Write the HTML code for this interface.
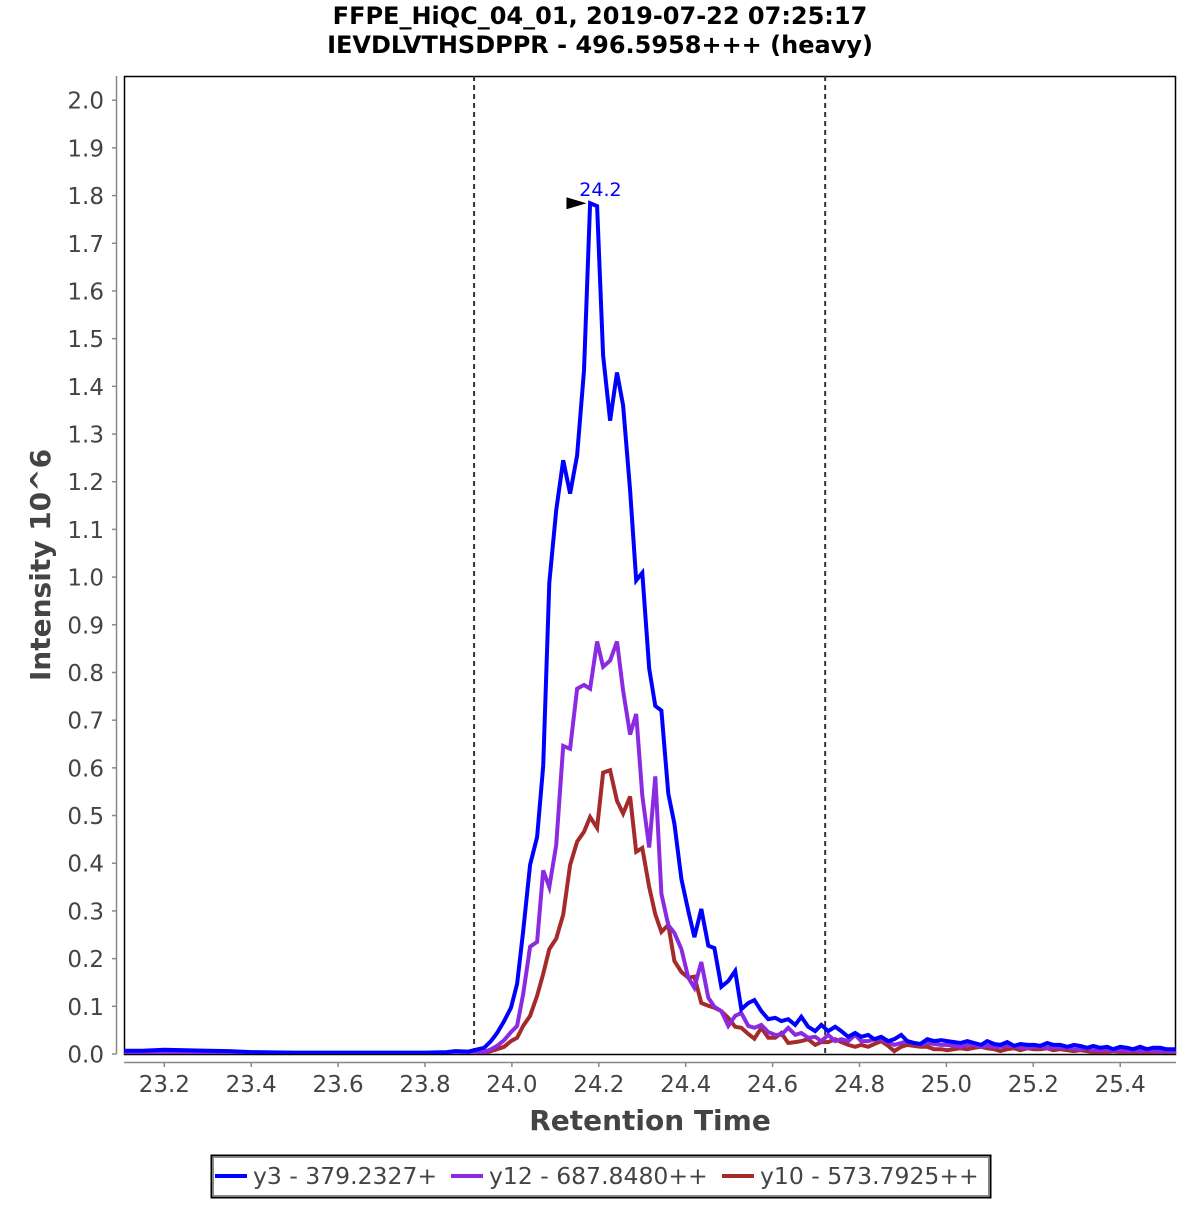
<!DOCTYPE html>
<html><head><meta charset="utf-8"><style>
html,body{margin:0;padding:0;background:#fff;}
svg text{font-family:"DejaVu Sans","Liberation Sans",sans-serif;}
</style></head><body>
<svg id="chart" width="1200" height="1200" xmlns="http://www.w3.org/2000/svg">
<text x="600" y="24" text-anchor="middle" font-size="24" font-weight="bold" fill="#000">FFPE_HiQC_04_01, 2019-07-22 07:25:17</text>
<text x="600" y="53" text-anchor="middle" font-size="24" font-weight="bold" fill="#000">IEVDLVTHSDPPR - 496.5958+++ (heavy)</text>
<g id="plot"></g>
<text x="650" y="1130" text-anchor="middle" font-size="28" font-weight="bold" fill="#444">Retention Time</text>
<text transform="translate(50,565) rotate(-90)" text-anchor="middle" font-size="28" font-weight="bold" fill="#444">Intensity 10^6</text>
<g>
<rect x="211.5" y="1155.5" width="779" height="42" fill="#fff" stroke="#000" stroke-width="2"/>
<rect x="213.5" y="1157.5" width="775" height="38" fill="none" stroke="#888" stroke-width="1"/>
<g><line x1="215" y1="1176" x2="247" y2="1176" stroke="#0000ff" stroke-width="4"/><text x="253" y="1184" font-size="23.5" fill="#444">y3 - 379.2327+</text></g>
<g><line x1="451" y1="1176" x2="483" y2="1176" stroke="#8a2be2" stroke-width="4"/><text x="489" y="1184" font-size="23.5" fill="#444">y12 - 687.8480++</text></g>
<g><line x1="722" y1="1176" x2="754" y2="1176" stroke="#a52a2a" stroke-width="4"/><text x="760" y="1184" font-size="23.5" fill="#444">y10 - 573.7925++</text></g>
</g>
</svg>
<script>
const xTicks = [23.2,23.4,23.6,23.8,24.0,24.2,24.4,24.6,24.8,25.0,25.2,25.4];
const yTicks = [0.0,0.1,0.2,0.3,0.4,0.5,0.6,0.7,0.8,0.9,1.0,1.1,1.2,1.3,1.4,1.5,1.6,1.7,1.8,1.9,2.0];
const boundaries = [23.913, 24.721];
const peakTime = 24.19;
const peakValue = 1.784;
const peakLabel = "24.2";
const times = [23.10,23.15,23.20,23.25,23.30,23.35,23.40,23.50,23.60,23.70,23.80,23.85,23.87,23.90,
23.913,23.936,23.952,23.966,23.982,23.998,24.012,24.026,24.042,24.058,
24.072,24.086,24.102,24.118,24.134,24.150,24.166,24.180,24.196,24.210,
24.226,24.242,24.256,24.272,24.286,24.300,24.316,24.330,24.344,24.360,
24.374,24.390,24.406,24.420,24.436,24.452,24.466,24.482,24.498,24.514,
24.528,24.544,24.558,24.574,24.590,24.606,24.620,24.636,24.652,24.666,
24.682,24.698,24.712,24.728,24.744,24.758,24.774,24.790,24.804,24.820,
24.834,24.850,24.866,24.880,24.896,24.910,24.926,24.940,24.956,24.972,
24.988,25.002,25.018,25.032,25.048,25.064,25.080,25.094,25.110,25.124,
25.140,25.156,25.170,25.186,25.202,25.216,25.232,25.246,25.262,25.278,
25.294,25.308,25.324,25.338,25.354,25.370,25.384,25.400,25.416,25.430,
25.446,25.462,25.476,25.492,25.506,25.529];
const y3Values = [.007,.007,.009,.008,.007,.006,.004,.003,.003,.003,.003,.004,.006,.005,
.008,.013,.027,.044,.069,.097,.147,.258,.397,.455,
.604,.988,1.14,1.245,1.175,1.255,1.433,1.784,1.778,1.465,
1.328,1.429,1.36,1.182,.993,1.009,.808,.730,.720,.546,
.483,.367,.300,.245,.304,.227,.222,.141,.153,.174,
.094,.107,.113,.090,.073,.076,.069,.073,.061,.078,
.057,.048,.061,.048,.057,.048,.036,.044,.036,.040,
.031,.036,.027,.031,.040,.027,.023,.021,.031,.027,
.029,.027,.025,.023,.027,.023,.019,.027,.021,.019,
.025,.017,.021,.019,.019,.017,.023,.019,.019,.015,
.019,.017,.013,.017,.013,.015,.010,.015,.013,.010,
.015,.010,.013,.013,.010,.010];
const y12Values = [.002,.002,.002,.002,.002,.002,.002,.002,.002,.002,.002,.002,.002,.002,
.002,.004,.010,.017,.029,.046,.059,.126,.225,.235,
.385,.350,.438,.646,.640,.766,.774,.766,.865,.812,
.825,.865,.762,.670,.713,.542,.433,.582,.336,.270,
.254,.220,.160,.139,.193,.118,.099,.090,.059,.080,
.086,.059,.055,.061,.046,.040,.040,.055,.040,.044,
.034,.036,.027,.040,.027,.031,.027,.040,.027,.027,
.031,.031,.025,.019,.023,.027,.023,.019,.023,.021,
.019,.019,.017,.015,.019,.019,.015,.017,.015,.015,
.017,.017,.013,.013,.015,.015,.013,.013,.013,.013,
.010,.010,.012,.008,.008,.008,.008,.008,.006,.008,
.006,.008,.006,.006,.006,.006];
const y10Values = [.001,.001,.001,.001,.001,.001,.001,.001,.001,.001,.001,.001,.001,.001,
.002,.002,.006,.010,.015,.027,.034,.059,.080,.122,
.168,.220,.242,.292,.396,.445,.466,.497,.474,.590,
.595,.531,.504,.540,.424,.432,.350,.293,.256,.271,
.195,.172,.160,.162,.107,.101,.097,.090,.076,.057,
.055,.042,.032,.055,.034,.034,.044,.023,.025,.027,
.031,.019,.025,.025,.031,.025,.019,.015,.019,.015,
.021,.027,.017,.006,.015,.019,.017,.015,.015,.010,
.010,.008,.010,.012,.010,.013,.015,.012,.010,.006,
.010,.012,.008,.012,.010,.010,.012,.008,.010,.008,
.006,.008,.006,.004,.004,.004,.006,.004,.004,.004,
.002,.004,.004,.002,.004,.002];

const NS = "http://www.w3.org/2000/svg";
const plot = document.getElementById('plot');
const L = 124, R = 1176, T = 76, B = 1054;
function xScale(t){ return 164.3 + (t - 23.2) * 434.5; }
function yScale(v){ return 1054 - v * 476.9; }
function mk(tag, attrs){ const e = document.createElementNS(NS, tag); for (const k in attrs) e.setAttribute(k, attrs[k]); plot.appendChild(e); return e; }

const clip = document.createElementNS(NS,'clipPath'); clip.setAttribute('id','pc');
const cr = document.createElementNS(NS,'rect'); cr.setAttribute('x',L); cr.setAttribute('y',T); cr.setAttribute('width',R-L); cr.setAttribute('height',B-T);
clip.appendChild(cr); plot.appendChild(clip);

const box = mk('rect',{x:L+0.5,y:T+0.5,width:R-L-1,height:B-T,fill:'#fff',stroke:'#000','stroke-width':1.5});



const yAxis = mk('line',{x1:116.5,y1:T,x2:116.5,y2:B,stroke:'#888','stroke-width':1.5});


yTicks.forEach(v => {
  const y = yScale(v);
  const tk = mk('line',{x1:112,y1:y,x2:116.5,y2:y,stroke:'#888','stroke-width':1.5});
  
  
  const tx = mk('text',{x:104,y:y+8.5,'text-anchor':'end','font-size':23,fill:'#444'});
  tx.textContent = v.toFixed(1);
  
  
});
const xAxis = mk('line',{x1:L,y1:1062.5,x2:R,y2:1062.5,stroke:'#888','stroke-width':1.5});


xTicks.forEach(t => {
  const x = xScale(t);
  const tk = mk('line',{x1:x,y1:1062.5,x2:x,y2:1067,stroke:'#888','stroke-width':1.5});
  
  
  const tx = mk('text',{x:x,y:1092,'text-anchor':'middle','font-size':23,fill:'#444'});
  tx.textContent = t.toFixed(1);
  
  
});
boundaries.forEach(t => {
  const x = xScale(t);
  const ln = mk('line',{x1:x,y1:T,x2:x,y2:B,stroke:'#333','stroke-width':2,'stroke-dasharray':'5,4'});
  
  
});
const series = [[y10Values,'#a52a2a','series-y10'],[y12Values,'#8a2be2','series-y12'],[y3Values,'#0000ff','series-y3']];
series.forEach(([vals,col,name]) => {
  const d = vals.map((v,i) => (i?'L':'M') + xScale(times[i]).toFixed(1) + ',' + yScale(v).toFixed(1)).join(' ');
  const p = mk('path',{d:d,fill:'none',stroke:col,'stroke-width':4,'stroke-linejoin':'miter','clip-path':'url(#pc)'});
  
  
});
const px = xScale(peakTime), py = yScale(peakValue);
const arrow = mk('polygon',{points:`${px-28},${py-6} ${px-8},${py} ${px-28},${py+6}`,fill:'#000'});


const pl = mk('text',{x:px+6,y:py-7,'text-anchor':'middle','font-size':19,fill:'#0000ff'});
pl.textContent = peakLabel;


</script>
</body></html>
